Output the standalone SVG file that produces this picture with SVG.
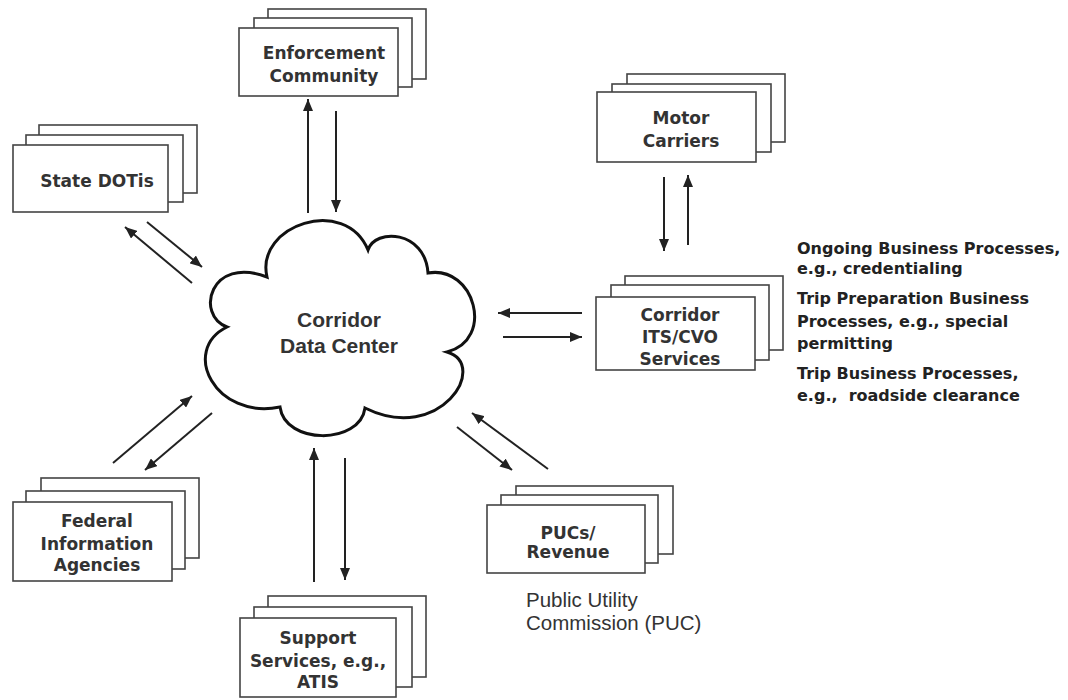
<svg xmlns="http://www.w3.org/2000/svg" width="1068" height="700" viewBox="0 0 1068 700">
<style>
.bx{fill:#fff;stroke:#444;stroke-width:1.6}
.bt{font-family:"DejaVu Sans",Verdana,sans-serif;font-weight:bold;font-size:17px;fill:#333;text-anchor:middle}
.an{font-family:"DejaVu Sans",Verdana,sans-serif;font-weight:bold;font-size:16px;fill:#222}
.pu{font-family:"Liberation Sans",Arial,sans-serif;font-size:20.5px;fill:#333}
.ct{font-family:"Liberation Sans",Arial,sans-serif;font-weight:bold;font-size:21px;fill:#333;text-anchor:middle}
.ar{stroke:#222;stroke-width:2;fill:none;marker-end:url(#ah)}
</style>
<defs>
<marker id="ah" markerUnits="userSpaceOnUse" markerWidth="12" markerHeight="10" refX="12" refY="5" orient="auto">
<path d="M0,0 L12,5 L0,10 z" fill="#222"/>
</marker>
</defs>
<rect width="1068" height="700" fill="#fff"/>

<g id="cloud">
<path d="M267,277 C255,225 345,195 368,250 C375,228 425,230 428,273 C475,265 495,340 447,352 C490,365 440,445 365,408 C360,445 285,445 280,407 C215,420 180,350 227,327 C195,315 210,255 267,277 Z" fill="#fff" stroke="#111" stroke-width="3"/>
<text class="ct" x="339" y="327">Corridor</text>
<text class="ct" x="339" y="353">Data Center</text>
</g>

<g id="enforcement">
<rect class="bx" x="268" y="9" width="158" height="70"/>
<rect class="bx" x="254" y="18" width="158" height="69"/>
<rect class="bx" x="239" y="28" width="159" height="68"/>
<text class="bt" x="324" y="59">Enforcement</text>
<text class="bt" x="324" y="82">Community</text>
</g>

<g id="statedots">
<rect class="bx" x="39" y="125" width="158" height="68"/>
<rect class="bx" x="26" y="135" width="157" height="67"/>
<rect class="bx" x="13" y="145" width="155" height="67"/>
<text class="bt" x="97" y="187">State DOTis</text>
</g>

<g id="motorcarriers">
<rect class="bx" x="627" y="74" width="158" height="68"/>
<rect class="bx" x="612" y="84" width="159" height="68"/>
<rect class="bx" x="597" y="92" width="159" height="70"/>
<text class="bt" x="681" y="124">Motor</text>
<text class="bt" x="681" y="147">Carriers</text>
</g>

<g id="corridorits">
<rect class="bx" x="625" y="276" width="158" height="74"/>
<rect class="bx" x="611" y="285" width="158" height="75"/>
<rect class="bx" x="596" y="297" width="159" height="73"/>
<text class="bt" x="680" y="321">Corridor</text>
<text class="bt" x="680" y="343">ITS/CVO</text>
<text class="bt" x="680" y="365">Services</text>
</g>

<g id="processes">
<text class="an" x="797" y="254">Ongoing Business Processes,</text>
<text class="an" x="797" y="274">e.g., credentialing</text>
<text class="an" x="797" y="304">Trip Preparation Business</text>
<text class="an" x="797" y="327">Processes, e.g., special</text>
<text class="an" x="797" y="349">permitting</text>
<text class="an" x="797" y="379">Trip Business Processes,</text>
<text class="an" x="797" y="401" xml:space="preserve">e.g.,  roadside clearance</text>
</g>

<g id="federal">
<rect class="bx" x="41" y="478" width="158" height="80"/>
<rect class="bx" x="26" y="491" width="159" height="78"/>
<rect class="bx" x="13" y="502" width="159" height="79"/>
<text class="bt" x="97" y="527">Federal</text>
<text class="bt" x="97" y="550">Information</text>
<text class="bt" x="97" y="571">Agencies</text>
</g>

<g id="support">
<rect class="bx" x="268" y="596" width="158" height="81"/>
<rect class="bx" x="254" y="607" width="158" height="80"/>
<rect class="bx" x="240" y="618" width="156" height="79"/>
<text class="bt" x="318" y="644">Support</text>
<text class="bt" x="318" y="667">Services, e.g.,</text>
<text class="bt" x="318" y="688">ATIS</text>
</g>

<g id="pucs">
<rect class="bx" x="516" y="486" width="157" height="68"/>
<rect class="bx" x="501" y="495" width="157" height="68"/>
<rect class="bx" x="487" y="505" width="158" height="68"/>
<text class="bt" x="568" y="539">PUCs/</text>
<text class="bt" x="568" y="558">Revenue</text>
<text class="pu" x="526" y="607">Public Utility</text>
<text class="pu" x="526" y="630">Commission (PUC)</text>
</g>

<g id="connectors">
<line class="ar" x1="308" y1="213" x2="308" y2="99"/>
<line class="ar" x1="336" y1="111" x2="336" y2="212"/>
<line class="ar" x1="192" y1="283" x2="125" y2="227"/>
<line class="ar" x1="147" y1="222" x2="202" y2="267"/>
<line class="ar" x1="664" y1="177" x2="664" y2="251"/>
<line class="ar" x1="688" y1="245" x2="688" y2="175"/>
<line class="ar" x1="582" y1="313" x2="498" y2="313"/>
<line class="ar" x1="503" y1="337" x2="582" y2="337"/>
<line class="ar" x1="113" y1="463" x2="192" y2="396"/>
<line class="ar" x1="212" y1="413" x2="145" y2="470"/>
<line class="ar" x1="314" y1="582" x2="314" y2="448"/>
<line class="ar" x1="345" y1="458" x2="345" y2="580"/>
<line class="ar" x1="457" y1="427" x2="512" y2="470"/>
<line class="ar" x1="548" y1="469" x2="472" y2="413"/>
</g>
</svg>
